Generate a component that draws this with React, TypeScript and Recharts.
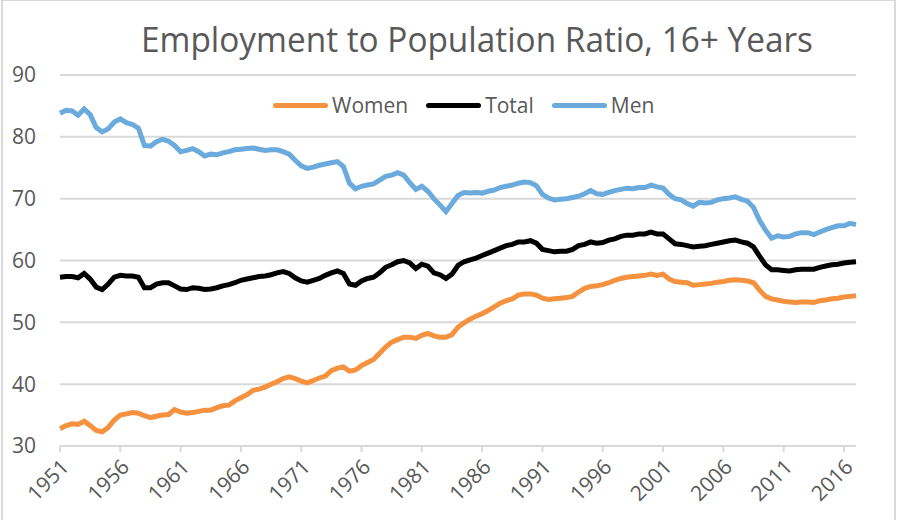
import React from 'react';
import { LineChart, Line, XAxis, YAxis, CartesianGrid, Legend } from 'recharts';

// half-yearly readings, first point = Jan 1951, last = Jan 2017
const START_YEAR = 1951;
const YEAR_TICKS = [1951, 1956, 1961, 1966, 1971, 1976, 1981, 1986, 1991, 1996, 2001, 2006, 2011, 2016];
const VALUE_TICKS = [30, 40, 50, 60, 70, 80, 90];
const LEGEND_ORDER = ['Women', 'Total', 'Men'];

const WOMEN = [
  32.8, 33.3, 33.6, 33.5, 34.0, 33.3, 32.5, 32.3, 33.0, 34.2,
  35.0, 35.2, 35.4, 35.3, 34.9, 34.6, 34.8, 35.0, 35.1, 35.9,
  35.5, 35.3, 35.4, 35.6, 35.8, 35.8, 36.2, 36.5, 36.6, 37.3,
  37.8, 38.3, 39.0, 39.2, 39.5, 40.0, 40.4, 40.9, 41.2, 40.9,
  40.5, 40.2, 40.6, 41.0, 41.3, 42.2, 42.6, 42.8, 42.1, 42.3,
  43.0, 43.5, 44.0, 45.0, 46.0, 46.8, 47.2, 47.6, 47.6, 47.4,
  47.9, 48.2, 47.8, 47.6, 47.6, 48.0, 49.2, 49.9, 50.5, 51.0,
  51.4, 51.9, 52.5, 53.1, 53.5, 53.8, 54.4, 54.6, 54.6, 54.4,
  53.9, 53.7, 53.8, 53.9, 54.0, 54.2, 54.9, 55.5, 55.8, 55.9,
  56.1, 56.4, 56.8, 57.1, 57.3, 57.4, 57.5, 57.6, 57.8, 57.6,
  57.8, 57.0, 56.6, 56.5, 56.4, 56.0, 56.1, 56.2, 56.3, 56.5,
  56.6, 56.8, 56.9, 56.8, 56.7, 56.4, 55.2, 54.2, 53.8, 53.6,
  53.4, 53.3, 53.2, 53.3, 53.3, 53.2, 53.5, 53.6, 53.8, 53.9,
  54.1, 54.2, 54.3,
];

const TOTAL = [
  57.3, 57.4, 57.4, 57.2, 57.9, 57.0, 55.7, 55.3, 56.2, 57.3,
  57.6, 57.5, 57.5, 57.3, 55.6, 55.6, 56.2, 56.4, 56.4, 55.9,
  55.4, 55.3, 55.6, 55.5, 55.3, 55.4, 55.6, 55.9, 56.1, 56.4,
  56.8, 57.0, 57.2, 57.4, 57.5, 57.7, 58.0, 58.2, 57.9, 57.2,
  56.7, 56.5, 56.8, 57.1, 57.6, 58.0, 58.3, 57.9, 56.2, 56.0,
  56.7, 57.1, 57.3, 58.0, 58.9, 59.3, 59.8, 60.0, 59.6, 58.7,
  59.4, 59.1, 58.0, 57.7, 57.1, 57.8, 59.2, 59.8, 60.1, 60.4,
  60.8, 61.2, 61.6, 62.0, 62.4, 62.6, 63.0, 63.0, 63.2, 62.8,
  61.8, 61.6, 61.4, 61.5, 61.5, 61.8, 62.4, 62.6, 63.0, 62.8,
  62.9, 63.3, 63.5, 63.9, 64.1, 64.1, 64.3, 64.3, 64.6, 64.3,
  64.3, 63.5, 62.7, 62.6, 62.4, 62.2, 62.3, 62.4, 62.6, 62.8,
  63.0, 63.2, 63.3, 63.0, 62.8, 62.2, 60.7, 59.3, 58.5, 58.5,
  58.4, 58.3, 58.5, 58.6, 58.6, 58.6, 58.9, 59.1, 59.3, 59.4,
  59.6, 59.7, 59.8,
];

const MEN = [
  83.8, 84.3, 84.2, 83.5, 84.5, 83.6, 81.5, 80.8, 81.3, 82.4,
  82.9, 82.3, 82.0, 81.4, 78.6, 78.5, 79.2, 79.6, 79.3, 78.6,
  77.6, 77.8, 78.1, 77.6, 76.9, 77.2, 77.1, 77.4, 77.6, 77.9,
  78.0, 78.1, 78.2, 78.0, 77.8, 77.9, 77.9, 77.6, 77.2, 76.2,
  75.3, 74.9, 75.1, 75.4, 75.6, 75.8, 76.0, 75.2, 72.5, 71.6,
  72.0, 72.2, 72.4, 73.0, 73.6, 73.8, 74.2, 73.8, 72.6, 71.5,
  72.0, 71.2, 70.0, 69.0, 67.9, 69.2, 70.5, 71.0, 70.9, 71.0,
  70.9, 71.2, 71.4, 71.8, 72.0, 72.2, 72.5, 72.7, 72.6, 72.1,
  70.7, 70.1, 69.8, 69.9, 70.0, 70.2, 70.4, 70.8, 71.3, 70.8,
  70.7, 71.0, 71.3, 71.5, 71.7, 71.6, 71.8, 71.8, 72.2, 71.9,
  71.7, 70.7, 70.0, 69.8, 69.2, 68.8, 69.4, 69.3, 69.4, 69.8,
  70.0, 70.1, 70.3, 69.9, 69.6, 68.6, 66.5, 64.9, 63.6, 64.0,
  63.8, 63.9, 64.3, 64.5, 64.5, 64.2, 64.6, 65.0, 65.3, 65.6,
  65.6, 66.0, 65.8,
];

const data = WOMEN.map((w, i) => ({
  year: START_YEAR + i * 0.5,
  women: w,
  total: TOTAL[i],
  men: MEN[i],
}));

const FONT = '"Open Sans", sans-serif';
const GREY = '#595959';

const YearTick = (props: any) => {
  const { x, y, payload } = props;
  return (
    <text
      x={x + 5}
      y={y}
      transform={`rotate(-45, ${x + 5}, ${y})`}
      textAnchor="end"
      dy="0.35em"
      fill={GREY}
      fontSize={21}
      fontFamily={FONT}
    >
      {payload.value}
    </text>
  );
};

const LegendRow = (props: any) => {
  const items = [...(props.payload || [])].sort(
    (a: any, b: any) => LEGEND_ORDER.indexOf(a.value) - LEGEND_ORDER.indexOf(b.value)
  );
  return (
    <div style={{ display: 'flex', alignItems: 'center', paddingLeft: 273, fontFamily: FONT }}>
      {items.map((it: any) => (
        <div key={it.value} style={{ display: 'flex', alignItems: 'center', marginRight: 18 }}>
          <span
            style={{
              display: 'inline-block',
              width: 55,
              height: 5,
              borderRadius: 3,
              background: it.color,
              marginRight: 4,
            }}
          />
          <span style={{ fontSize: 21, color: GREY, lineHeight: '28px' }}>{it.value}</span>
        </div>
      ))}
    </div>
  );
};

const App: React.FC = () => {
  return (
    <div style={{ position: 'absolute', left: 0, top: 0, width: 897, height: 520, background: '#fff', overflow: 'hidden' }}>
      <div
        style={{
          position: 'absolute',
          left: 1,
          top: -1,
          width: 895,
          height: 540,
          border: '2px solid #d9d9d9',
          boxSizing: 'border-box',
        }}
      />
      <svg width={897} height={70} style={{ position: 'absolute', left: 0, top: 0 }}>
        <text
          x={477}
          y={52}
          textAnchor="middle"
          fontSize={35}
          fontFamily={FONT}
          fill={GREY}
          textLength={672}
          lengthAdjust="spacingAndGlyphs"
        >
          Employment to Population Ratio, 16+ Years
        </text>
      </svg>
      <LineChart
        width={897}
        height={520}
        data={data}
        margin={{ top: 75, right: 41, bottom: 0, left: 0 }}
      >
        <CartesianGrid vertical={false} stroke="#d9d9d9" strokeWidth={2} />
        <XAxis
          dataKey="year"
          type="number"
          domain={[1951, 2017]}
          ticks={YEAR_TICKS}
          interval={0}
          height={74}
          stroke="#d9d9d9"
          strokeWidth={2}
          tickSize={6}
          tickMargin={11}
          tick={<YearTick />}
        />
        <YAxis
          domain={[30, 90]}
          ticks={VALUE_TICKS}
          width={60}
          axisLine={false}
          tickLine={false}
          tickSize={0}
          tickMargin={24}
          tick={{ fill: GREY, fontSize: 21, fontFamily: FONT }}
        />
        <Legend
          layout="horizontal"
          verticalAlign="middle"
          align="center"
          content={<LegendRow />}
          wrapperStyle={{ top: 91, left: 0, width: 897 }}
        />
        <Line
          type="linear"
          dataKey="women"
          name="Women"
          stroke="#F4923F"
          strokeWidth={5}
          dot={false}
          isAnimationActive={false}
        />
        <Line
          type="linear"
          dataKey="total"
          name="Total"
          stroke="#000000"
          strokeWidth={5}
          dot={false}
          isAnimationActive={false}
        />
        <Line
          type="linear"
          dataKey="men"
          name="Men"
          stroke="#6AAADC"
          strokeWidth={5}
          dot={false}
          isAnimationActive={false}
        />
      </LineChart>
    </div>
  );
};

export default App;
